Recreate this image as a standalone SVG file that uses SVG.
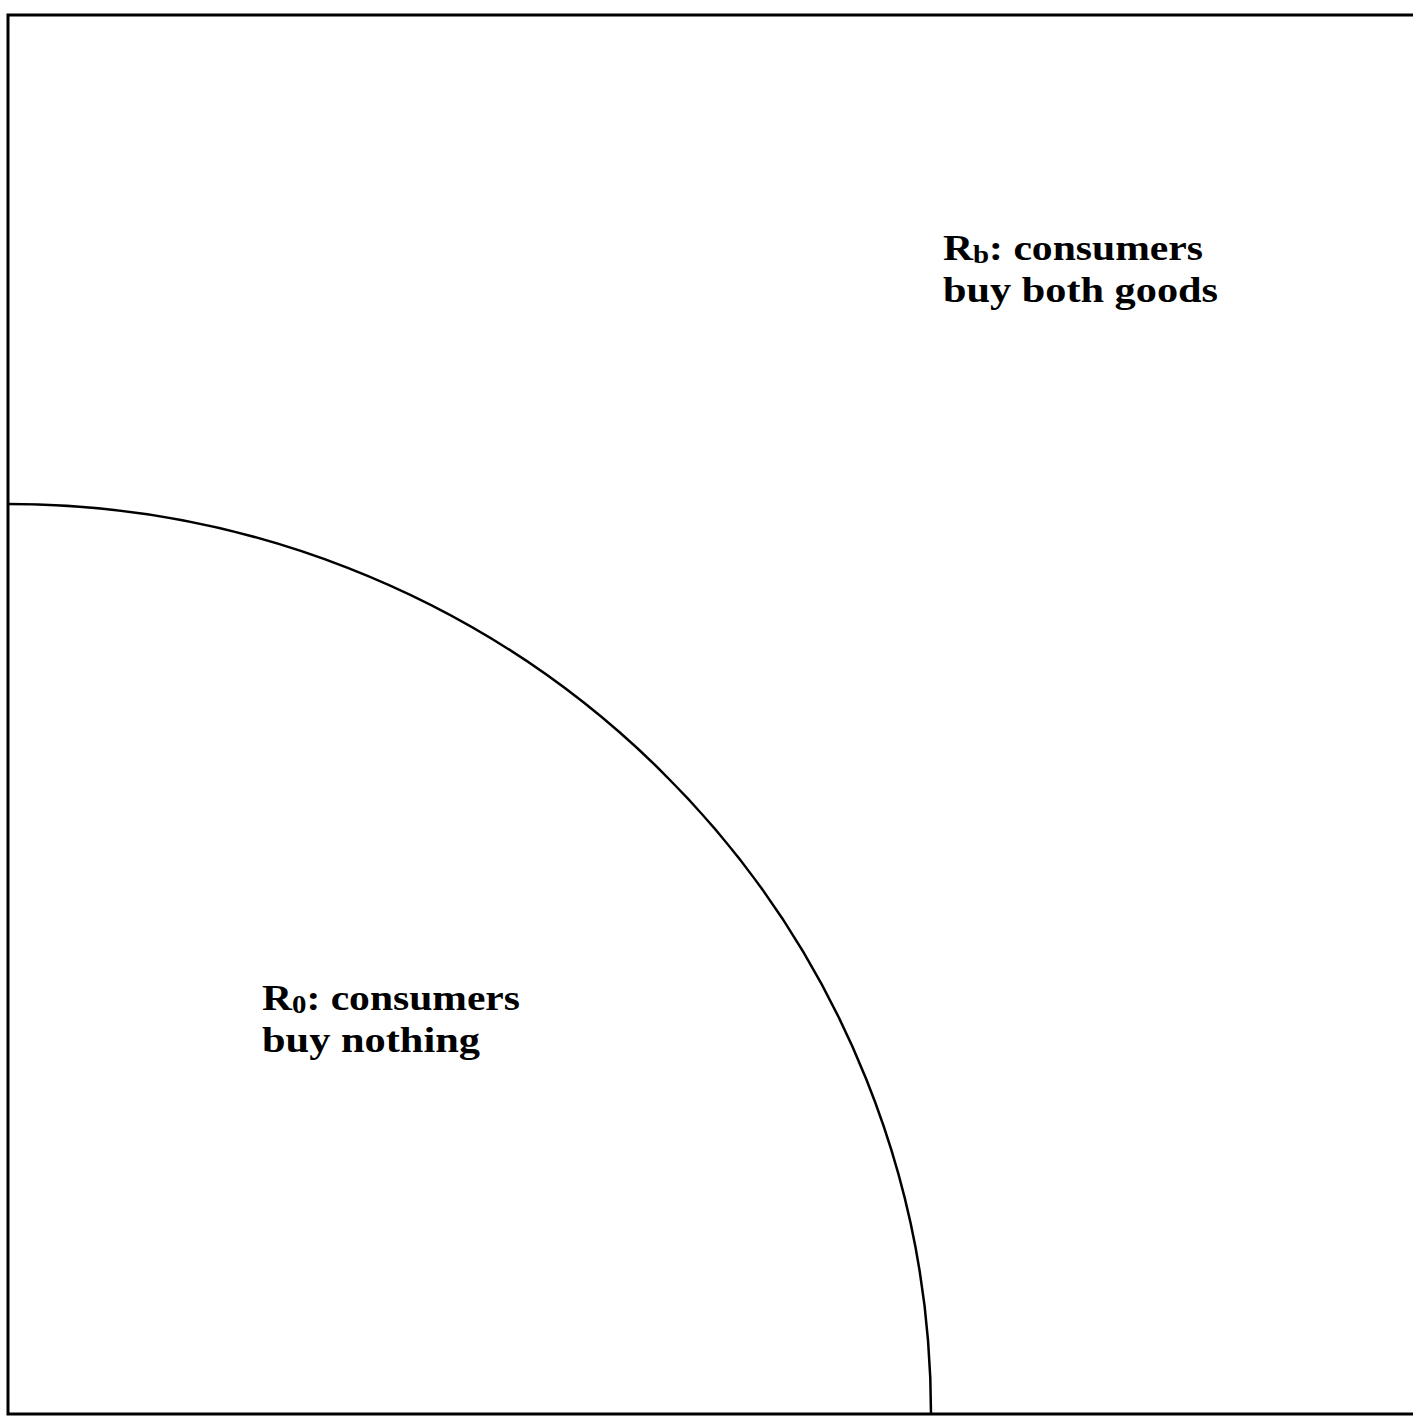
<svg xmlns="http://www.w3.org/2000/svg" width="1413" height="1416" viewBox="0 0 1413 1416">
<style>
.frame{fill:none;stroke:#000;stroke-width:3}
.curve{fill:none;stroke:#000;stroke-width:2.5}
.lbl{font-family:"Liberation Serif","DejaVu Serif",serif;font-size:36px;font-weight:bold;fill:#000}
.sub{font-size:25px}
</style>
<rect width="1413" height="1416" fill="#fff"/>
<g id="frame">
<path class="frame" d="M1413,15 L8,15 L8,1414 L1413,1414"/>
</g>
<g id="connectors">
<path class="curve" d="M8,504 A923,910 0 0 1 931,1414"/>
</g>
<g id="region-Rb">
<text class="lbl" x="943" y="260" textLength="260" lengthAdjust="spacingAndGlyphs">R<tspan class="sub" dy="3">b</tspan><tspan dy="-3">: consumers</tspan></text>
<text class="lbl" x="943" y="302" textLength="275" lengthAdjust="spacingAndGlyphs">buy both goods</text>
</g>
<g id="region-R0">
<text class="lbl" x="262" y="1010" textLength="258" lengthAdjust="spacingAndGlyphs">R<tspan class="sub" dy="3">0</tspan><tspan dy="-3">: consumers</tspan></text>
<text class="lbl" x="262" y="1052" textLength="218" lengthAdjust="spacingAndGlyphs">buy nothing</text>
</g>
</svg>
